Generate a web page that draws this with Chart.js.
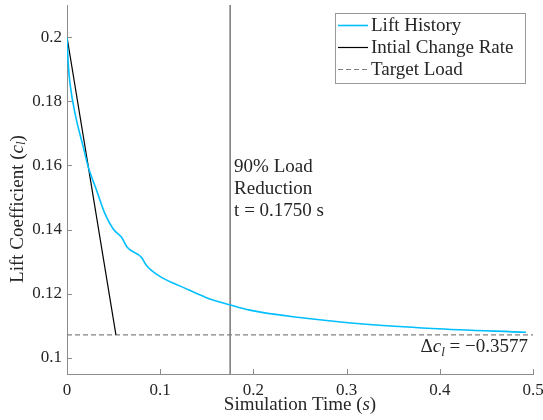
<!DOCTYPE html>
<html>
<head>
<meta charset="utf-8">
<script src="https://cdn.jsdelivr.net/npm/chart.js@4/dist/chart.umd.min.js"></script>
<style>
html,body{margin:0;padding:0;background:#fff;}
#wrap{width:543px;height:420px;position:relative;}
</style>
</head>
<body>
<div id="wrap"><canvas id="c" width="543" height="420"></canvas></div>
<script>
// ---- data ----
const timeValues = [0, 0.0015, 0.0032, 0.0086, 0.0175, 0.0228, 0.0318, 0.0407, 0.0496, 0.0585, 0.0646, 0.080, 0.0853, 0.1014, 0.1246, 0.1496, 0.1745, 0.196, 0.2495, 0.3209, 0.392, 0.4925];
const liftValues = [0.2, 0.191, 0.1856, 0.1762, 0.1657, 0.1595, 0.1522, 0.145, 0.1402, 0.1376, 0.1345, 0.1313, 0.1288, 0.1251, 0.1220, 0.1188, 0.1166, 0.1149, 0.1126, 0.1105, 0.1092, 0.1080];
const rateTimes = [0, 0.0525];
const rateValues = [0.2, 0.1072];
const targetTimes = [0, 0.5];
const targetValues = [0.1072, 0.1072];
const markerTimes = [0.175, 0.175];
const markerValues = [0.095, 0.21];
const xTicks = [0, 0.1, 0.2, 0.3, 0.4, 0.5];
const xTickLabels = ['0', '0.1', '0.2', '0.3', '0.4', '0.5'];
const yTicks = [0.1, 0.12, 0.14, 0.16, 0.18, 0.2];
const yTickLabels = ['0.1', '0.12', '0.14', '0.16', '0.18', '0.2'];
const seriesNames = ['Lift History', 'Intial Change Rate', 'Target Load'];
const annotationLines = ['90% Load', 'Reduction', 't = 0.1750 s'];
const deltaValue = '\u22120.3577';

const pts = (xs, ys) => xs.map((x, i) => ({x: x, y: ys[i]}));
const SERIF = '"Liberation Serif", "DejaVu Serif", serif';
const TXT = '#262626';
const AX = '#8c8c8c';

function drawRich(ctx, parts, x, y, align) {
  let total = 0;
  const sizes = parts.map(p => {
    ctx.font = (p.italic ? 'italic ' : '') + (p.sub ? 13 : 19) + 'px ' + SERIF;
    const w = ctx.measureText(p.t).width;
    total += w;
    return w;
  });
  let cx = align === 'center' ? x - total / 2 : (align === 'right' ? x - total : x);
  parts.forEach((p, i) => {
    ctx.font = (p.italic ? 'italic ' : '') + (p.sub ? 13 : 19) + 'px ' + SERIF;
    ctx.fillText(p.t, cx, y + (p.sub ? 4 : 0));
    cx += sizes[i];
  });
}

const decor = {
  id: 'decor',
  afterDatasetsDraw(chart) {
    const ctx = chart.ctx;
    const xs = chart.scales.x, ys = chart.scales.y;
    const a = chart.chartArea;
    ctx.save();
    // inward ticks
    ctx.strokeStyle = AX;
    ctx.lineWidth = 1;
    ctx.beginPath();
    xTicks.forEach(v => {
      const px = Math.round(xs.getPixelForValue(v)) + 0.5;
      ctx.moveTo(px, a.bottom); ctx.lineTo(px, a.bottom - 5);
    });
    yTicks.forEach(v => {
      const py = Math.round(ys.getPixelForValue(v)) + 0.5;
      ctx.moveTo(a.left, py); ctx.lineTo(a.left + 5, py);
    });
    ctx.stroke();

    // annotation text
    ctx.fillStyle = TXT;
    ctx.textBaseline = 'middle';
    ctx.textAlign = 'left';
    ctx.font = '19px ' + SERIF;
    const ax = xs.getPixelForValue(markerTimes[0]) + 4;
    const ay = ys.getPixelForValue(0.1594);
    annotationLines.forEach((t, i) => ctx.fillText(t, ax, ay + i * 22));

    // delta text
    ctx.textBaseline = 'alphabetic';
    drawRich(ctx, [{t: '\u0394'}, {t: 'c', italic: true}, {t: 'l', italic: true, sub: true}, {t: ' = ' + deltaValue}], a.right - 5, ys.getPixelForValue(0.1) - 6, 'right');

    // legend
    const bw = 190, bh = 70;
    const bx = a.right - 8 - bw, by = a.top + 8;
    ctx.fillStyle = '#fff';
    ctx.fillRect(bx, by, bw, bh);
    ctx.strokeStyle = '#999';
    ctx.lineWidth = 1;
    ctx.strokeRect(bx + 0.5, by + 0.5, bw, bh);
    const legendSets = chart.data.datasets.filter(d => d.inLegend);
    legendSets.forEach((d, i) => {
      const ly = Math.round(by + 12 + i * 22) + 0.5;
      ctx.beginPath();
      ctx.strokeStyle = d.borderColor;
      ctx.lineWidth = d.borderWidth;
      ctx.setLineDash(d.borderDash || []);
      ctx.moveTo(bx + 3, ly); ctx.lineTo(bx + 33, ly);
      ctx.stroke();
      ctx.setLineDash([]);
      ctx.fillStyle = TXT;
      ctx.font = '19px ' + SERIF;
      ctx.textBaseline = 'middle';
      ctx.textAlign = 'left';
      ctx.fillText(d.label, bx + 36, ly + 1);
    });

    // axis titles
    ctx.fillStyle = TXT;
    ctx.textBaseline = 'middle';
    ctx.textAlign = 'left';
    drawRich(ctx, [{t: 'Simulation Time ('}, {t: 's', italic: true}, {t: ')'}], (a.left + a.right) / 2, 405, 'center');
    ctx.save();
    ctx.translate(18, 209);
    ctx.rotate(-Math.PI / 2);
    drawRich(ctx, [{t: 'Lift Coefficient ('}, {t: 'c', italic: true}, {t: 'l', italic: true, sub: true}, {t: ')'}], 0, 0, 'center');
    ctx.restore();
    ctx.restore();
  }
};

new Chart(document.getElementById('c'), {
  type: 'line',
  data: {
    datasets: [
      {label: seriesNames[0], data: pts(timeValues, liftValues), borderColor: '#00bfff', borderWidth: 1.6, pointRadius: 0, cubicInterpolationMode: 'monotone', fill: false, inLegend: true},
      {label: seriesNames[1], data: pts(rateTimes, rateValues), borderColor: '#000000', borderWidth: 1.2, pointRadius: 0, fill: false, inLegend: true},
      {label: seriesNames[2], data: pts(targetTimes, targetValues), borderColor: '#808080', borderWidth: 1.2, borderDash: [5, 3], pointRadius: 0, fill: false, inLegend: true},
      {label: 'marker', data: pts(markerTimes, markerValues), borderColor: '#333333', borderWidth: 1, pointRadius: 0, fill: false, inLegend: false}
    ]
  },
  options: {
    responsive: false,
    animation: false,
    events: [],
    layout: {padding: {top: 5, right: 10, left: 0, bottom: 0}},
    plugins: {legend: {display: false}, tooltip: {enabled: false}, title: {display: false}},
    scales: {
      x: {
        type: 'linear', min: 0, max: 0.5,
        grid: {display: false, drawTicks: false},
        border: {display: true, color: AX, width: 1},
        afterBuildTicks: s => { s.ticks = xTicks.map(v => ({value: v})); },
        afterFit: s => { s.height = 46; s.paddingLeft = 0; s.paddingRight = 0; },
        ticks: {autoSkip: false, maxRotation: 0, padding: 6, color: TXT, font: {family: SERIF, size: 17},
          callback: (v, i) => xTickLabels[i]}
      },
      y: {
        type: 'linear', min: 0.095, max: 0.21,
        grid: {display: false, drawTicks: false},
        border: {display: true, color: AX, width: 1},
        afterBuildTicks: s => { s.ticks = yTicks.map(v => ({value: v})); },
        afterFit: s => { s.width = 67; s.paddingTop = 0; s.paddingBottom = 0; },
        ticks: {autoSkip: false, padding: 5, color: TXT, font: {family: SERIF, size: 17},
          callback: (v, i) => yTickLabels[i]}
      }
    }
  },
  plugins: [decor]
});
</script>
</body>
</html>
